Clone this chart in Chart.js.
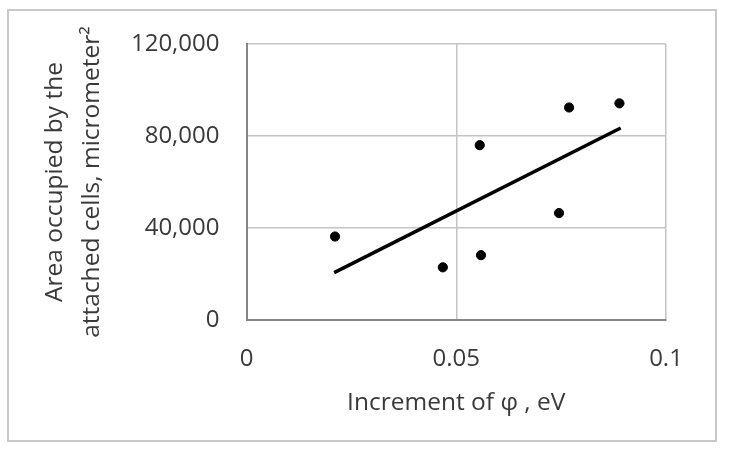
<!DOCTYPE html>
<html>
<head>
<meta charset="utf-8">
<script src="https://cdn.jsdelivr.net/npm/chart.js@4"></script>
<style>
    html, body { margin: 0; padding: 0; background: #ffffff; }
    #wrap { position: relative; width: 730px; height: 449px; }
    #frame {
        position: absolute; left: 7px; top: 9px; width: 710px; height: 433px;
        border: 2px solid #c8c8c8; box-sizing: border-box; pointer-events: none;
    }
</style>
</head>
<body>
<div id="wrap">
    <canvas id="chart" width="730" height="449"></canvas>
    <div id="frame"></div>
</div>
<script>

// ---------------- DATA ----------------

const incrementPhi = [0.0211, 0.0468, 0.0559, 0.0556, 0.0745, 0.0769, 0.0889];
const cellArea = [36300, 22900, 28200, 76000, 46500, 92400, 94200];

// linear trendline ends
const trendX = [0.0209, 0.0892];
const trendY = [20600, 83500];

const xTicks = [0, 0.05, 0.1];
const yTicks = [0, 40000, 80000, 120000];

const xTitle = "Increment of \u03c6 , eV";
const yTitle = ["Area occupied by the", "attached cells, micrometer\u00b2"];

// ---------------- CHART ----------------

const textColor = "#3a3a3a";
const gridColor = "#c4c4c4";
const axisColor = "#868686";
const fontFamily = "'Open Sans'";

new Chart(
    document.getElementById("chart"),
    {
        type: "scatter",

        data: {
            datasets: [
                {
                    label: "Area",
                    data: incrementPhi.map((x, i) => ({ x: x, y: cellArea[i] })),
                    backgroundColor: "#000000",
                    borderColor: "#000000",
                    pointRadius: 4.6,
                    pointHoverRadius: 4.6
                },
                {
                    label: "Trend",
                    data: trendX.map((x, i) => ({ x: x, y: trendY[i] })),
                    showLine: true,
                    borderColor: "#000000",
                    borderWidth: 3.5,
                    pointRadius: 0
                }
            ]
        },

        options: {
            responsive: false,
            animation: false,
            events: [],

            layout: {
                padding: { left: 0, top: 44, right: 64, bottom: 0 }
            },

            plugins: {
                legend: { display: false },
                tooltip: { enabled: false }
            },

            scales: {
                x: {
                    type: "linear",
                    min: 0,
                    max: 0.1,
                    afterBuildTicks: scale => {
                        scale.ticks = xTicks.map(v => ({ value: v }));
                    },
                    afterFit: scale => { scale.height = 129; },
                    ticks: {
                        padding: 25,
                        color: textColor,
                        font: { family: fontFamily, size: 24 },
                        callback: v => String(+v.toFixed(2))
                    },
                    grid: {
                        drawTicks: false,
                        color: gridColor,
                        lineWidth: 1.5
                    },
                    border: { color: axisColor, width: 2 },
                    title: {
                        display: true,
                        text: xTitle,
                        color: textColor,
                        font: { family: fontFamily, size: 24.5 },
                        padding: { top: 0, bottom: 31 }
                    }
                },

                y: {
                    type: "linear",
                    min: 0,
                    max: 120000,
                    afterBuildTicks: scale => {
                        scale.ticks = yTicks.map(v => ({ value: v }));
                    },
                    afterFit: scale => { scale.width = 246.5; },
                    ticks: {
                        padding: 27,
                        color: textColor,
                        font: { family: fontFamily, size: 24 },
                        callback: v => v.toLocaleString("en-US")
                    },
                    grid: {
                        drawTicks: false,
                        color: gridColor,
                        lineWidth: 1.5
                    },
                    border: { color: axisColor, width: 2 },
                    title: {
                        display: true,
                        text: yTitle,
                        color: textColor,
                        font: { family: fontFamily, size: 24.5, lineHeight: 1.5 },
                        padding: { top: 37, bottom: 0 }
                    }
                }
            }
        }
    }
);

</script>
</body>
</html>
